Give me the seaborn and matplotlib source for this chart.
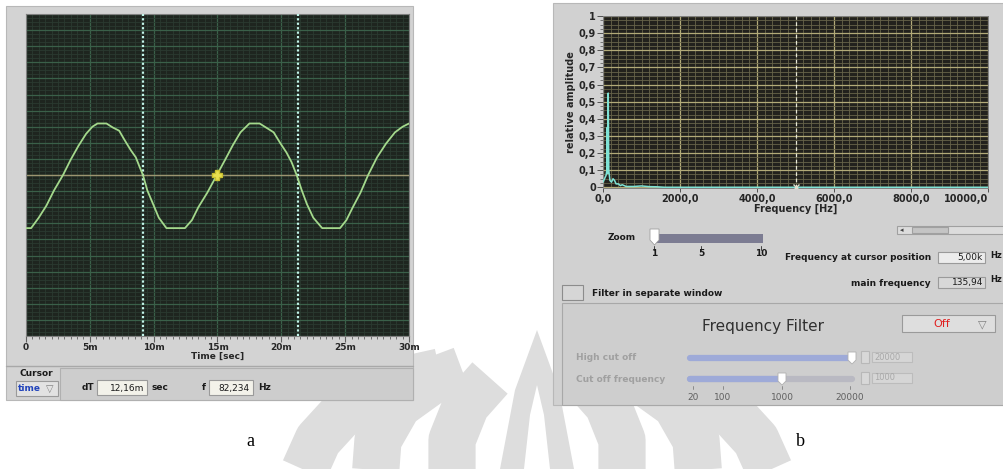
import matplotlib
matplotlib.use("Agg")
import matplotlib.pyplot as plt
import seaborn as sns
import pandas as pd
from matplotlib.patches import Rectangle, Polygon
from matplotlib.ticker import MultipleLocator, FixedLocator

W, H = 1004, 469

# ---------------- data ----------------
time_ms = [0, 0.4, 1.0, 1.6, 2.2, 2.9, 3.5, 4.1, 4.7, 5.2,
           5.6, 6.3, 6.8, 7.3, 7.7, 8.2, 8.6, 8.9, 9.16, 9.5,
           9.9, 10.4, 11.0, 12.45, 13.0, 13.5, 14.2, 14.95, 15.6, 16.2,
           16.8, 17.5, 18.3, 18.9, 19.4, 19.9, 20.4, 20.8, 21.2, 21.6,
           22.0, 22.5, 23.2, 24.6, 25.1, 25.6, 26.2, 26.8, 27.5, 28.2,
           28.9, 29.5, 30.0]
signal = [-3.3, -3.3, -2.65, -1.9, -0.95, 0.0, 0.95, 1.8, 2.55, 3.0,
          3.2, 3.2, 2.95, 2.75, 2.2, 1.55, 1.1, 0.5, 0.0, -0.95,
          -1.7, -2.65, -3.3, -3.3, -2.8, -2.0, -1.1, 0.0, 0.95, 1.85,
          2.65, 3.2, 3.2, 2.9, 2.65, 2.0, 1.4, 0.8, 0.0, -0.95,
          -1.8, -2.65, -3.3, -3.3, -2.8, -2.0, -1.1, 0.0, 1.1, 1.95,
          2.65, 3.0, 3.2]

freq_hz = [0, 40, 80, 100, 110, 120, 136, 150, 180, 220, 260, 300, 340,
           400, 450, 500, 600, 800, 1000, 1200, 1400, 1600, 3000, 10000]
rel_amp = [0.03, 0.05, 0.07, 0.10, 0.35, 0.08, 0.55, 0.10, 0.04, 0.03,
           0.05, 0.04, 0.02, 0.02, 0.01, 0.015, 0.005, 0.005, 0.008,
           0.004, 0.003, 0.0, 0.0, 0.0]

time_ticks = [0, 5, 10, 15, 20, 25, 30]
time_tick_labels = ["0", "5m", "10m", "15m", "20m", "25m", "30m"]
freq_ticks = [0, 2000, 4000, 6000, 8000, 10000]
freq_tick_labels = ["0,0", "2000,0", "4000,0", "6000,0", "8000,0", "10000,0"]
amp_ticks = [0, 0.1, 0.2, 0.3, 0.4, 0.5, 0.6, 0.7, 0.8, 0.9, 1.0]
amp_tick_labels = ["0", "0,1", "0,2", "0,3", "0,4", "0,5", "0,6", "0,7",
                   "0,8", "0,9", "1"]
cursor_times = [9.16, 21.3]
cursor_point = (14.95, 0.0)
cursor_freq = 5000

# ---------------- figure ----------------
sns.set_theme(style="white")
plt.rcParams['font.family'] = ['DejaVu Sans']

fig = plt.figure(figsize=(W / 100, H / 100), dpi=100)
fig.patch.set_facecolor("white")


def rect(x0, y0, x1, y1):
    return [x0 / W, 1 - y1 / H, (x1 - x0) / W, (y1 - y0) / H]


bg = fig.add_axes([0, 0, 1, 1], zorder=0)
bg.set_xlim(0, W)
bg.set_ylim(H, 0)
bg.axis("off")


def box(x0, y0, x1, y1, fc, ec="none", lw=0.8, z=1):
    bg.add_patch(Rectangle((x0, y0), x1 - x0, y1 - y0, fc=fc, ec=ec, lw=lw, zorder=z))


def txt(x, y, s, ha="left", size=7, weight="bold", color="#1a1a1a", **kw):
    bg.text(x, y, s, ha=ha, va="center", fontsize=size, fontweight=weight,
            color=color, zorder=6, **kw)


# faint watermark logo (decorative, light grey petals behind everything)
logo_col = "#dddddd"
cx = 537
left_paths = [
    [(300, 480), (318, 440), (350, 405), (395, 382), (440, 372)],
    [(375, 480), (378, 440), (398, 405), (430, 382), (462, 370)],
    [(452, 480), (452, 440), (466, 405), (490, 378)],
]
for pts in left_paths:
    for sign in (1, -1):
        xs = [p[0] if sign == 1 else 2 * cx - p[0] for p in pts]
        ys = [p[1] for p in pts]
        bg.plot(xs, ys, color=logo_col, lw=34, solid_capstyle="butt", zorder=0.5)
bg.add_patch(Polygon([(500, 469), (515, 390), (cx, 330), (559, 390), (574, 469)],
                     closed=True, fc=logo_col, ec="none", zorder=0.5))
bg.add_patch(Polygon([(524, 469), (530, 415), (cx, 385), (544, 415), (550, 469)],
                     closed=True, fc="white", ec="none", zorder=0.6))

# left panel
box(6, 6, 413, 400, "#d3d3d3", "#b8b8b8")
bg.plot([6, 413], [366, 366], color="#a8a8a8", lw=1, zorder=2)
box(60, 368, 413, 400, "#cdcdcd", "#b0b0b0")
txt(36, 373, "Cursor", ha="center", size=6.5)
box(16, 381, 58, 396, "#e2e2e2", "#9a9a9a")
txt(18, 388.5, "time", size=6.5, color="#2244bb")
txt(50, 389, "\u25bd", ha="center", size=7, weight="normal", color="#808080")
txt(82, 388, "dT", size=6.5)
box(97, 380, 147, 395, "#f3f2ea", "#9a9a9a")
txt(144, 388, "12,16m", ha="right", size=6.5, weight="normal")
txt(152, 388, "sec", size=6.5)
txt(202, 388, "f", size=6.5)
box(209, 380, 253, 395, "#f3f2ea", "#9a9a9a")
txt(250, 388, "82,234", ha="right", size=6.5, weight="normal")
txt(258, 388, "Hz", size=6.5)

# right panel
box(553, 3, 1004, 405, "#d1d1d1", "#b8b8b8")
txt(622, 238, "Zoom", ha="center", size=6.5)
bg.add_patch(Rectangle((652, 234), 111, 9, fc="#7c7c92", ec="none", zorder=2))
bg.add_patch(Polygon([(650, 229), (659, 229), (659, 240), (654.5, 245), (650, 240)],
                     closed=True, fc="white", ec="#a0a0a0", lw=0.6, zorder=3))
for xt, lab in [(654, "1"), (701, "5"), (761, "10")]:
    bg.plot([xt, xt], [246, 250], color="#404040", lw=0.7, zorder=3)
    txt(xt, 254, lab, ha="center", size=6.5)
box(897, 226, 1004, 234, "#dcdcdc", "#a0a0a0")
box(912, 227, 948, 233, "#c4c4c4", "#a0a0a0")
txt(900, 230, "\u25c2", size=5, weight="normal", color="#404040")
txt(931, 257, "Frequency at cursor position", ha="right", size=6.5)
box(938, 252, 985, 263, "#ececec", "#9a9a9a")
txt(983, 257.5, "5,00k", ha="right", size=6.5, weight="normal")
txt(990, 256, "Hz", size=6)
txt(931, 283, "main frequency", ha="right", size=6.5)
box(938, 277, 985, 288, "#d8d8d8", "#9a9a9a")
txt(983, 282.5, "135,94", ha="right", size=6.5, weight="normal")
txt(990, 280, "Hz", size=6)
box(562, 285, 583, 300, "#d6d6d6", "#8c8c8c")
txt(592, 293, "Filter in separate window", size=6.5)

# frequency filter panel
box(562, 303, 1004, 405, "#cecece", "#a8a8a8")
txt(763, 326, "Frequency Filter", ha="center", size=11, weight="normal", color="#303030")
box(902, 315, 995, 332, "#dedede", "#9a9a9a")
txt(942, 324, "Off", ha="center", size=8, weight="normal", color="#e02020")
txt(982, 324, "\u25bd", ha="center", size=8, weight="normal", color="#808080")
txt(576, 358, "High cut off", size=6.5, color="#a0a0a0")
txt(576, 379, "Cut off frequency", size=6.5, color="#a0a0a0")
bg.plot([690, 852], [358, 358], color="#9eaad8", lw=4.5, solid_capstyle="round", zorder=2)
bg.plot([690, 852], [379, 379], color="#b9b9c2", lw=4.5, solid_capstyle="round", zorder=2)
bg.plot([690, 782], [379, 379], color="#9eaad8", lw=4.5, solid_capstyle="round", zorder=2)
for tx, ty in [(852, 358), (782, 379)]:
    bg.add_patch(Polygon([(tx - 4, ty - 6), (tx + 4, ty - 6), (tx + 4, ty + 2),
                          (tx, ty + 6), (tx - 4, ty + 2)],
                         closed=True, fc="white", ec="#b0b0b0", lw=0.6, zorder=3))
for yy, lab in [(357, "20000"), (378, "1000")]:
    box(861, yy - 6, 869, yy + 6, "#d8d8d8", "#b8b8b8")
    box(872, yy - 5, 912, yy + 5, "#d6d6d6", "#bcbcbc")
    txt(874, yy, lab, size=6, weight="normal", color="#a8a8a8")
for xt, lab in [(693, "20"), (723, "100"), (782, "1000"), (850, "20000")]:
    bg.plot([xt, xt], [386, 389], color="#808080", lw=0.6, zorder=3)
    txt(xt, 397, lab, ha="center", size=6.5, weight="normal", color="#606060")

txt(250, 441, "a", ha="center", size=13, weight="normal", color="black",
    family="Liberation Serif")
txt(800, 441, "b", ha="center", size=13, weight="normal", color="black",
    family="Liberation Serif")

# ---------------- time-domain plot ----------------
axL = fig.add_axes(rect(26, 14, 409, 336), zorder=2)
axL.set_facecolor("#1e251f")
df_t = pd.DataFrame({"t": time_ms, "v": signal})
axL.xaxis.set_major_locator(FixedLocator(time_ticks))
axL.xaxis.set_minor_locator(MultipleLocator(0.5))
axL.yaxis.set_major_locator(MultipleLocator(1))
axL.yaxis.set_minor_locator(MultipleLocator(0.25))
axL.grid(which="minor", color="#2a3a30", lw=0.6)
axL.grid(which="major", color="#3a6049", lw=0.9)
axL.set_axisbelow(True)
axL.axhline(0, color="#9c9470", lw=1.0, zorder=2)
for ct in cursor_times:
    axL.axvline(ct, color="#c2f5ea", lw=1.6, ls=(0, (1, 1)), zorder=3)
sns.lineplot(data=df_t, x="t", y="v", ax=axL, color="#a4d98c", lw=1.3, zorder=4)
axL.plot([cursor_point[0]], [cursor_point[1]], marker="P", ms=7, color="#e8e050",
         mec="#c8c030", zorder=5)
axL.set_xlim(0, 30)
axL.set_ylim(-10, 10)
axL.set_xticklabels(time_tick_labels)
axL.tick_params(axis="x", which="major", direction="out", length=4, width=0.8,
                color="#606060", labelsize=6.5, pad=1, bottom=True)
axL.tick_params(axis="x", which="minor", direction="out", length=2, width=0.6,
                color="#606060", bottom=True)
axL.tick_params(axis="y", which="both", left=False, labelleft=False)
for lab in axL.get_xticklabels():
    lab.set_fontweight("bold")
axL.set_xlabel("Time [sec]", fontsize=6.5, fontweight="bold", labelpad=0)
axL.set_ylabel("")
for s in axL.spines.values():
    s.set_color("#808080")
    s.set_linewidth(0.8)

# ---------------- spectrum plot ----------------
axR = fig.add_axes(rect(603, 16, 988, 188), zorder=2)
axR.set_facecolor("#22211d")
df_f = pd.DataFrame({"f": freq_hz, "a": rel_amp})
axR.xaxis.set_major_locator(FixedLocator(freq_ticks))
axR.xaxis.set_minor_locator(MultipleLocator(200))
axR.yaxis.set_major_locator(FixedLocator(amp_ticks))
axR.yaxis.set_minor_locator(MultipleLocator(0.025))
axR.grid(which="minor", color="#67634a", lw=0.6)
axR.grid(which="major", color="#b2aa78", lw=0.9)
axR.set_axisbelow(True)
axR.axvline(cursor_freq, color="#e8e8d8", lw=0.9, ls=(0, (3, 2)), zorder=3)
sns.lineplot(data=df_f, x="f", y="a", ax=axR, color="#7fe3d6", lw=1.1, zorder=4)
axR.plot([cursor_freq], [0.004], marker="x", ms=4, color="#e0e0d0", zorder=5)
axR.set_xlim(0, 10000)
axR.set_ylim(-0.004, 1.0)
axR.set_xticklabels(freq_tick_labels)
axR.set_yticklabels(amp_tick_labels)
axR.tick_params(axis="x", which="major", direction="out", length=3, width=0.7,
                color="#505050", labelsize=7, pad=1, bottom=True)
axR.tick_params(axis="x", which="minor", bottom=False)
axR.tick_params(axis="y", which="major", direction="out", length=4, width=0.7,
                color="#505050", labelsize=7, pad=1, left=True)
axR.tick_params(axis="y", which="minor", direction="out", length=2, width=0.5,
                color="#505050", left=True)
for lab in axR.get_xticklabels() + axR.get_yticklabels():
    lab.set_fontweight("bold")
axR.get_xticklabels()[-1].set_horizontalalignment("right")
axR.set_xlabel("Frequency [Hz]", fontsize=7, fontweight="bold", labelpad=0)
axR.set_ylabel("relative amplitude", fontsize=7, fontweight="bold", labelpad=2)
for s in axR.spines.values():
    s.set_color("#808080")
    s.set_linewidth(0.7)

fig.savefig("out.png", dpi=100, facecolor="white")
